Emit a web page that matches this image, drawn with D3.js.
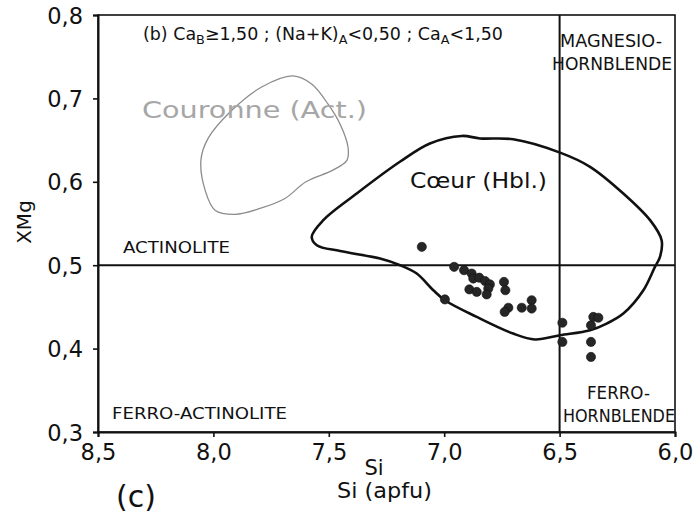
<!DOCTYPE html>
<html><head><meta charset="utf-8">
<script src="https://cdn.jsdelivr.net/npm/d3@7"></script>
<style>
html,body{margin:0;padding:0;background:#fff;}
svg{display:block;font-family:"DejaVu Sans",Verdana,sans-serif;}
</style></head>
<body>
<svg id="chart" width="698" height="517"></svg>
<script>
// ---- data ----
const siTicks = [8.5, 8.0, 7.5, 7.0, 6.5, 6.0];
const xmgTicks = [0.3, 0.4, 0.5, 0.6, 0.7, 0.8];

const pointSi  = [7.097, 6.957, 6.914, 6.881, 6.874, 6.848, 6.823, 6.802, 6.809, 6.816, 6.891, 6.859, 6.741, 6.735, 6.997, 6.722, 6.738, 6.664, 6.621, 6.621, 6.488, 6.488, 6.364, 6.354, 6.332, 6.364, 6.364];
const pointXMg = [0.522, 0.498, 0.494, 0.490, 0.484, 0.485, 0.481, 0.477, 0.472, 0.465, 0.471, 0.468, 0.480, 0.470, 0.459, 0.449, 0.444, 0.449, 0.458, 0.448, 0.431, 0.408, 0.428, 0.438, 0.437, 0.408, 0.390];

const coeurSi  = [6.924, 6.845, 6.701, 6.498, 6.368, 6.224, 6.108, 6.058, 6.065, 6.087, 6.137, 6.224, 6.296, 6.368, 6.498, 6.607, 6.701, 6.859, 6.997, 7.047, 7.119, 7.191, 7.278, 7.451, 7.552, 7.574, 7.524, 7.379, 7.192, 7.062];
const coeurXMg = [0.655, 0.652, 0.651, 0.635, 0.618, 0.586, 0.554, 0.530, 0.510, 0.498, 0.470, 0.442, 0.430, 0.422, 0.416, 0.411, 0.418, 0.438, 0.458, 0.470, 0.490, 0.500, 0.508, 0.517, 0.524, 0.534, 0.554, 0.586, 0.624, 0.646];

const couronneSi  = [7.655, 7.573, 7.503, 7.451, 7.417, 7.421, 7.482, 7.599, 7.690, 7.798, 7.906, 7.993, 8.036, 8.054, 8.023, 7.919, 7.789];
const couronneXMg = [0.727, 0.717, 0.693, 0.669, 0.642, 0.626, 0.614, 0.600, 0.580, 0.568, 0.561, 0.566, 0.590, 0.626, 0.652, 0.686, 0.714];

const siBoundary = 6.5;
const xmgBoundary = 0.5;

// ---- layout ----
const svg = d3.select("#chart");
const W = 698, H = 517;
const m = {left: 98, right: 23, top: 15, bottom: 85};
const x = d3.scaleLinear().domain([8.5, 6.0]).range([m.left, W - m.right]);
const y = d3.scaleLinear().domain([0.3, 0.8]).range([H - m.bottom, m.top]);
const fmt = d => d3.format(".1f")(d).replace(".", ",");

function fit(sel, w) { sel.attr("textLength", w).attr("lengthAdjust", "spacingAndGlyphs"); return sel; }

// frame
svg.append("rect").attr("x", x(8.5)).attr("y", y(0.8))
  .attr("width", x(6.0) - x(8.5)).attr("height", y(0.3) - y(0.8))
  .attr("fill", "none").attr("stroke", "#111").attr("stroke-width", 1.6);

// axes
const xAxis = svg.append("g").attr("transform", `translate(0,${y(0.3)})`)
  .call(d3.axisBottom(x).tickValues(siTicks).tickFormat(fmt).tickSize(5).tickPadding(3));
const yAxis = svg.append("g").attr("transform", `translate(${x(8.5)},0)`)
  .call(d3.axisLeft(y).tickValues(xmgTicks).tickFormat(fmt).tickSize(5).tickPadding(10));
[xAxis, yAxis].forEach(g => {
  g.select(".domain").attr("stroke", "#111").attr("stroke-width", 2);
  g.selectAll(".tick line").attr("stroke", "#111").attr("stroke-width", 1.6);
  g.selectAll("text").attr("fill", "#111").attr("font-size", 22.5)
    .attr("font-family", "'DejaVu Sans',sans-serif");
});
xAxis.selectAll("text").attr("dy", "0.9em");
yAxis.selectAll("text").attr("dy", "0.36em");

// boundary lines
svg.append("line").attr("x1", x(siBoundary)).attr("x2", x(siBoundary))
  .attr("y1", y(0.8)).attr("y2", y(0.3)).attr("stroke", "#111").attr("stroke-width", 2);
svg.append("line").attr("x1", x(8.5)).attr("x2", x(6.0))
  .attr("y1", y(xmgBoundary)).attr("y2", y(xmgBoundary)).attr("stroke", "#111").attr("stroke-width", 2);

// contours
const closedLine = d3.line().x(d => x(d[0])).y(d => y(d[1])).curve(d3.curveCatmullRomClosed.alpha(0.5));
svg.append("path").datum(d3.zip(couronneSi, couronneXMg)).attr("d", closedLine)
  .attr("fill", "none").attr("stroke", "#8c8c8c").attr("stroke-width", 1.3);
svg.append("path").datum(d3.zip(coeurSi, coeurXMg)).attr("d", closedLine)
  .attr("fill", "none").attr("stroke", "#111").attr("stroke-width", 2.6);

// points
svg.append("g").selectAll("circle").data(d3.zip(pointSi, pointXMg)).join("circle")
  .attr("cx", d => x(d[0])).attr("cy", d => y(d[1])).attr("r", 4.6)
  .attr("fill", "#262626").attr("stroke", "#111").attr("stroke-width", 0.6);

// labels
fit(svg.append("text").attr("x", 142).attr("y", 118).attr("font-size", 23)
  .attr("fill", "#a6a6a6").text("Couronne (Act.)"), 225);
fit(svg.append("text").attr("x", 410).attr("y", 188).attr("font-size", 22)
  .attr("fill", "#111").text("Cœur (Hbl.)"), 137);

// title with subscripts
const t = svg.append("text").attr("x", 143).attr("y", 39.5).attr("font-size", 15).attr("fill", "#111");
const parts = [["(b) Ca", 0], ["B", 1], ["≥1,50 ; (Na+K)", 0], ["A", 1], ["<0,50 ; Ca", 0], ["A", 1], ["<1,50", 0]];
parts.forEach(([s, sub], i) => {
  const ts = t.append("tspan").text(s);
  if (sub) ts.attr("font-size", 11).attr("dy", 4);
  else if (i > 0) ts.attr("dy", -4);
});
{
  const w0 = t.node().getComputedTextLength();
  const k = 360 / w0;
  t.attr("font-size", 15 * k);
  t.selectAll("tspan").filter((d, i) => parts[i][1]).attr("font-size", 11 * k);
}

const lab = (txt, xx, yy, fs, w, anchor) => fit(svg.append("text").attr("x", xx).attr("y", yy)
  .attr("font-size", fs).attr("fill", "#111").attr("text-anchor", anchor || "start").text(txt), w);
lab("MAGNESIO-", 560, 46.5, 17, 102);
lab("HORNBLENDE", 552, 70, 17, 120);
lab("ACTINOLITE", 123, 253, 15.5, 107);
lab("FERRO-ACTINOLITE", 112, 419, 16, 175);
lab("FERRO-", 587, 399, 17, 63);
lab("HORNBLENDE", 563, 422, 17, 112);

// axis titles
svg.append("text").attr("x", 374).attr("y", 475).attr("font-size", 21).attr("fill", "#111")
  .attr("text-anchor", "middle").text("Si");
fit(svg.append("text").attr("x", 337).attr("y", 498).attr("font-size", 22).attr("fill", "#111").text("Si (apfu)"), 95);
svg.append("text").attr("x", 136).attr("y", 507).attr("font-size", 30).attr("fill", "#111")
  .attr("text-anchor", "middle").text("(c)");
svg.append("text").attr("transform", "translate(31,222) rotate(-90)").attr("font-size", 20)
  .attr("fill", "#111").attr("text-anchor", "middle").text("XMg");
</script>
</body></html>
